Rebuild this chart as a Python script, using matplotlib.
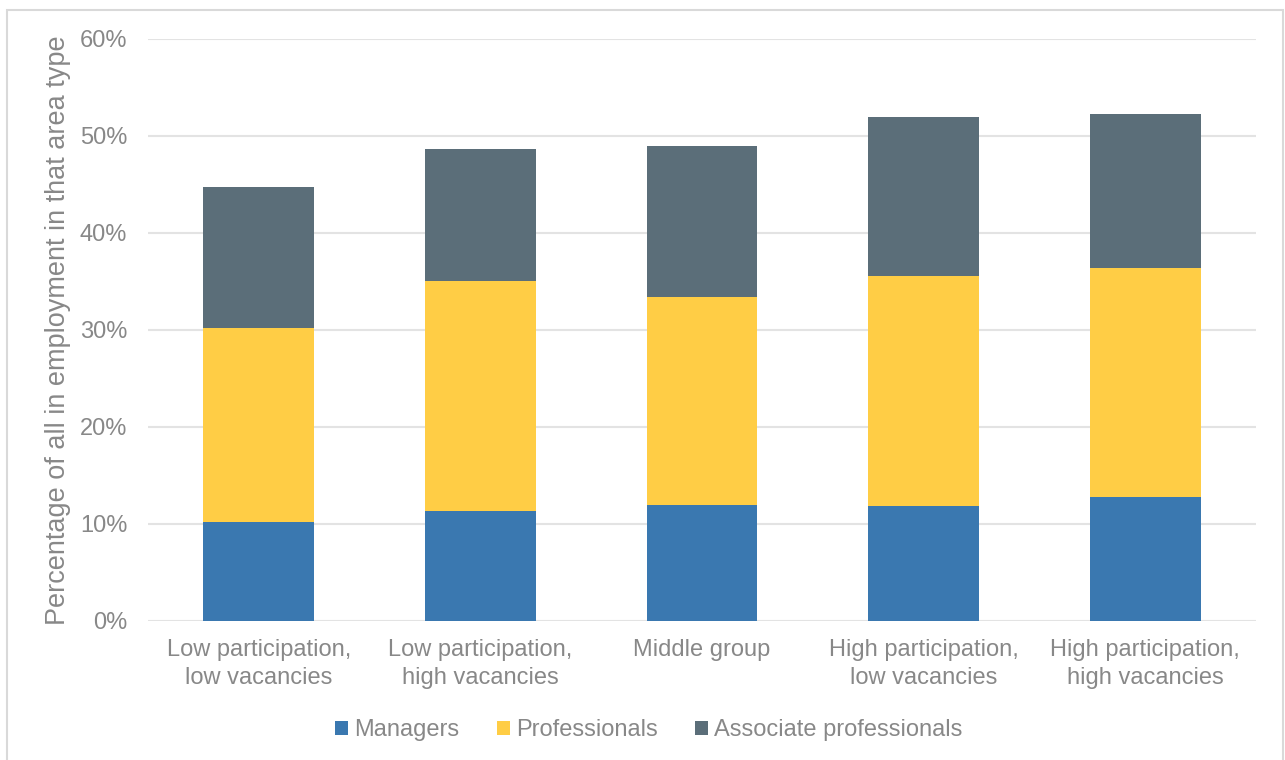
import matplotlib.pyplot as plt
from matplotlib.patches import Rectangle
from matplotlib.ticker import PercentFormatter

plt.rcParams['font.family'] = ['Liberation Sans', 'DejaVu Sans']

categories = ['Low participation,\nlow vacancies', 'Low participation,\nhigh vacancies',
              'Middle group', 'High participation,\nlow vacancies', 'High participation,\nhigh vacancies']
managers = [10.25, 11.35, 12.0, 11.85, 12.8]
professionals = [20.0, 23.65, 21.45, 23.75, 23.6]
associates = [14.5, 13.7, 15.55, 16.4, 15.85]

colors = ['#3A78B0', '#FFCD45', '#5B6E79']
grey = '#888888'

fig = plt.figure(figsize=(12.85, 7.6), dpi=100)
ax = fig.add_axes([0.1152, 0.1829, 0.8622, 0.7658])

x = range(len(categories))
bottom2 = [m + p for m, p in zip(managers, professionals)]
ax.bar(x, managers, width=0.5, color=colors[0], label='Managers', zorder=3)
ax.bar(x, professionals, width=0.5, bottom=managers, color=colors[1], label='Professionals', zorder=3)
ax.bar(x, associates, width=0.5, bottom=bottom2, color=colors[2], label='Associate professionals', zorder=3)

ax.set_xlim(-0.5, 4.5)
ax.set_ylim(0, 60)
ax.set_yticks(range(0, 61, 10))
ax.yaxis.set_major_formatter(PercentFormatter(decimals=0))
ax.set_xticks(list(x))
ax.set_xticklabels(categories, linespacing=1.35)
ax.grid(axis='y', color='#e3e3e3', linewidth=1.5, zorder=0)
for s in ax.spines.values():
    s.set_visible(False)
ax.tick_params(length=0, labelsize=17, colors=grey)
ax.tick_params(axis='y', pad=15)
ax.tick_params(axis='x', pad=13)
ax.set_ylabel('Percentage of all in employment in that area type', fontsize=19.5, color=grey, labelpad=6)

leg = fig.legend(loc='center', bbox_to_anchor=(0.505, 0.039), ncol=3, frameon=False,
                 fontsize=17, handlelength=0.55, handleheight=0.55, handletextpad=0.25,
                 columnspacing=1.6)
for t in leg.get_texts():
    t.set_color(grey)

# light frame around the chart
fig.patches.append(Rectangle((7 / 1285, -0.01), 1276 / 1285, 1 - 10 / 760 + 0.01,
                             transform=fig.transFigure, fill=False,
                             edgecolor='#d9d9d9', linewidth=1.5))

fig.savefig('out.png', dpi=100)
